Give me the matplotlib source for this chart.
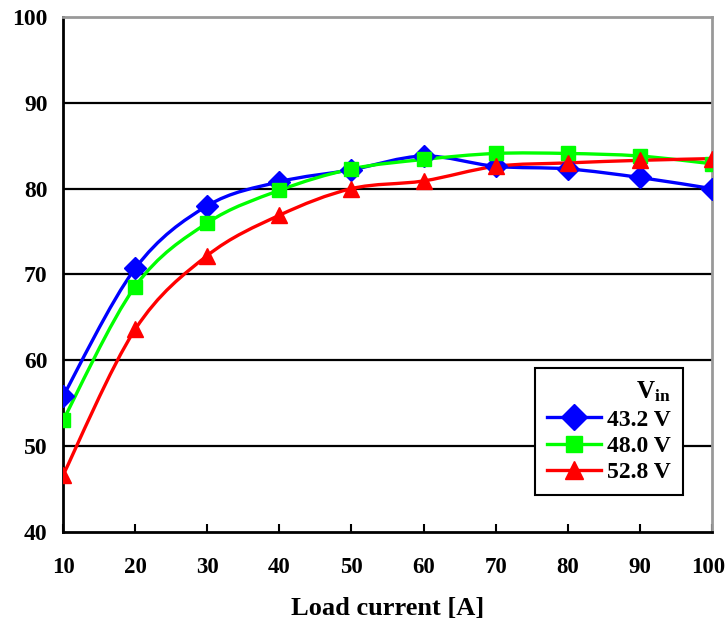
import numpy as np
import matplotlib
matplotlib.use("Agg")
import matplotlib.pyplot as plt
import matplotlib.transforms as mtransforms
from matplotlib.path import Path
from matplotlib.patches import PathPatch
from matplotlib.lines import Line2D

plt.rcParams['font.family'] = ['Liberation Serif', 'DejaVu Serif']
plt.rcParams['font.weight'] = 'bold'
plt.rcParams['mathtext.fontset'] = 'custom'
plt.rcParams['mathtext.rm'] = 'Liberation Serif:bold'
plt.rcParams['mathtext.it'] = 'Liberation Serif:bold'

# ---------- data ----------
load_current = [10, 20, 30, 40, 50, 60, 70, 80, 90, 100]
eff_432 = [55.8, 70.7, 78.0, 80.8, 82.2, 83.8, 82.6, 82.3, 81.3, 80.0]
eff_480 = [53.0, 68.6, 76.0, 79.8, 82.3, 83.4, 84.1, 84.1, 83.8, 82.9]
eff_528 = [46.6, 63.6, 72.2, 76.9, 80.0, 80.9, 82.6, 83.0, 83.3, 83.5]
series_labels = ["43.2 V", "48.0 V", "52.8 V"]
colors = ["#0000ff", "#00ff00", "#ff0000"]
markers = ["D", "s", "^"]
msizes = [11, 10, 11]


def smooth_path(x, y):
    # Excel-like smoothed line: cubic bezier, tangent = (P[i+1]-P[i-1])/6
    p = np.column_stack([x, y]).astype(float)
    n = len(p)
    verts = [p[0]]
    codes = [Path.MOVETO]
    for i in range(n - 1):
        p0 = p[i - 1] if i > 0 else p[i]
        p3 = p[i + 2] if i + 2 < n else p[i + 1]
        c1 = p[i] + (p[i + 1] - p0) / 6.0
        c2 = p[i + 1] - (p3 - p[i]) / 6.0
        verts += [c1, c2, p[i + 1]]
        codes += [Path.CURVE4] * 3
    return Path(verts, codes)


fig = plt.figure(figsize=(7.26, 6.34), dpi=100)
ax = fig.add_axes([0.0868, 0.1609, 0.8939, 0.8123])

handles = []
for vals, col, mk, ms, lab in zip([eff_432, eff_480, eff_528], colors, markers, msizes, series_labels):
    ax.add_patch(PathPatch(smooth_path(load_current, vals), fill=False,
                           edgecolor=col, lw=2.4, zorder=3))
    ax.plot(load_current, vals, ls="none", marker=mk, ms=ms, color=col,
            markeredgecolor=col, zorder=4)
    handles.append(Line2D([], [], color=col, lw=2.4, marker=mk, ms=ms + 2,
                          markeredgecolor=col, label=lab))

ax.set_xlim(10, 100)
ax.set_ylim(40, 100)
ax.set_xticks(load_current)
ax.set_yticks([40, 50, 60, 70, 80, 90, 100])
for yv in [50, 60, 70, 80, 90]:
    ax.axhline(yv, color="black", lw=1.6, zorder=1)

ax.tick_params(axis="x", direction="in", length=6, width=1.5, pad=18,
               labelsize=16.5, colors="black")
ax.tick_params(axis="y", length=0, pad=11, labelsize=17)
for lab in ax.get_xticklabels() + ax.get_yticklabels():
    lab.set_fontweight("bold")
# keep the last x label inside the canvas
last = ax.get_xticklabels()[-1]
last.set_transform(last.get_transform() +
                   mtransforms.ScaledTranslation(-4 / 100, 0, fig.dpi_scale_trans))

for side in ["left", "bottom"]:
    ax.spines[side].set_color("black")
    ax.spines[side].set_linewidth(2)
for side in ["top", "right"]:
    ax.spines[side].set_color("#999999")
    ax.spines[side].set_linewidth(2)

ax.set_xlabel("Load current [A]", fontsize=19, fontweight="bold", labelpad=14)

leg = ax.legend(handles=handles, title=r"V$_{\mathregular{in}}$", loc="lower right",
                bbox_to_anchor=(0.955, 0.072), borderaxespad=0, fancybox=False,
                framealpha=1, edgecolor="black", title_fontsize=18,
                handlelength=2.3, handletextpad=0.25, labelspacing=0.2,
                borderpad=0.5, alignment="right", prop={"weight": "bold", "size": 17})
leg.get_frame().set_linewidth(1.5)
leg.get_title().set_fontweight("bold")
leg.set_zorder(10)

fig.savefig("out.png", dpi=100)
